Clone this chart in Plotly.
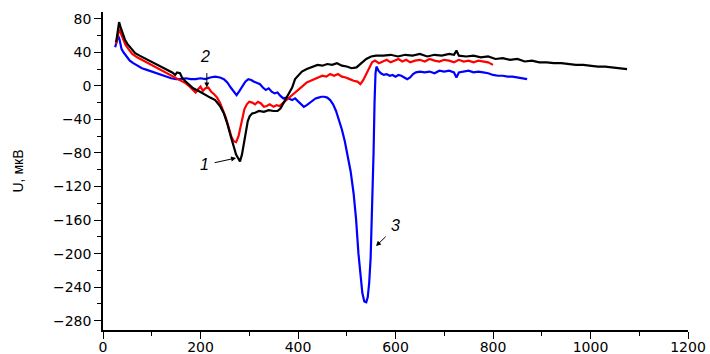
import plotly.graph_objects as go

# Curve 1 (black)
x1 = [27, 30, 33, 36, 40, 45, 50, 58, 66, 75, 85, 95, 105, 115, 125, 135, 142, 148, 152, 158,
      162, 168, 175, 185, 199, 210, 220, 230, 240, 248, 255, 262, 268, 273, 277, 281, 285, 289,
      293, 297, 301, 306, 312, 320, 330, 340, 350, 358, 364, 370, 376, 382, 388, 394, 400, 408,
      418, 430, 440, 450, 460, 470, 480, 490, 500, 510, 520, 530, 540, 550, 560, 575, 590, 605,
      620, 635, 650, 665, 680, 695, 710, 720, 725, 730, 745, 760, 775, 790, 805, 820, 835, 850,
      865, 880, 895, 910, 925, 940, 955, 970, 985, 1000, 1015, 1030, 1045, 1060, 1075]
y1 = [52, 66, 76, 70, 62, 55, 50, 44, 39, 36, 33, 30, 27, 24, 21, 18, 16, 13, 16, 15,
      10, 6, 2, -3, -7, -11, -14, -17, -24, -33, -45, -60, -72, -82, -86, -90, -82, -68,
      -55, -42, -36, -33, -32, -30, -31, -29, -30, -30, -27, -21, -15, -8, -2, 8, 12, 17,
      20, 23, 25, 24, 26, 25, 27, 24, 23, 21, 22, 27, 32, 35, 36, 36, 37, 35,
      37, 36, 38, 35, 37, 36, 38, 37, 42, 36, 35, 36, 34, 35, 32, 33, 31, 32,
      29, 30, 28, 28, 27, 27, 26, 25, 25, 24, 23, 23, 22, 21, 20]

# Curve 2 (red)
x2 = [27, 30, 33, 37, 41, 46, 52, 60, 70, 80, 90, 100, 110, 120, 130, 140, 150, 160, 170, 178,
      185, 190, 195, 200, 205, 210, 216, 222, 228, 234, 240, 246, 252, 258, 263, 268, 273, 278,
      282, 286, 290, 295, 300, 306, 312, 318, 324, 330, 336, 342, 350, 356, 362, 370, 377, 384,
      390, 397, 404, 410, 418, 426, 434, 442, 450, 458, 466, 474, 482, 490, 498, 506, 514, 522,
      528, 534, 540, 546, 552, 558, 566, 574, 582, 590, 598, 606, 614, 622, 630, 640, 650, 660,
      670, 680, 690, 700, 710, 720, 730, 740, 750, 760, 770, 780, 790, 800]
y2 = [50, 60, 68, 62, 55, 49, 44, 38, 34, 31, 28, 25, 22, 19, 16, 13, 10, 7, 3, -1,
      -5, -8, -4, -1, -6, -3, -2, -7, -10, -14, -20, -29, -38, -50, -60, -66, -67, -60,
      -48, -38, -28, -22, -19, -20, -22, -19, -21, -25, -24, -22, -25, -23, -24, -20, -16, -13,
      -10, -6, -3, 0, 4, 6, 8, 10, 12, 11, 14, 12, 14, 11, 10, 8, 6, 5,
      2, 7, 14, 22, 28, 30, 27, 29, 31, 28, 30, 32, 29, 31, 28, 30, 31, 29,
      32, 30, 29, 31, 30, 28, 31, 29, 30, 28, 30, 29, 28, 25]

# Curve 3 (blue)
x3 = [25, 28, 31, 34, 38, 42, 48, 55, 62, 70, 80, 90, 100, 110, 120, 130, 140, 150, 160, 170,
      180, 190, 200, 210, 220, 230, 240, 248, 255, 262, 268, 274, 280, 286, 292, 298, 304, 310,
      316, 322, 328, 334, 340, 346, 352, 358, 364, 370, 376, 382, 388, 394, 400, 406, 412, 418,
      424, 430, 436, 442, 448, 454, 460, 466, 472, 478, 484, 490, 496, 502, 508, 514, 519, 524,
      528, 532, 536, 540, 543, 546, 549, 551, 553, 555, 557, 559, 561, 565, 570, 576, 582, 588,
      594, 600, 606, 612, 618, 624, 630, 636, 642, 650, 660, 670, 680, 690, 700, 710, 720, 725,
      730, 740, 750, 760, 770, 780, 790, 800, 810, 820, 830, 840, 850, 860, 870]
y3 = [46, 52, 60, 55, 44, 40, 35, 30, 27, 24, 21, 19, 17, 15, 13, 11, 9, 8, 8, 9,
      8, 8, 9, 8, 10, 11, 10, 8, 4, -2, -7, -11, -6, 0, 5, 8, 7, 5,
      3, 2, -2, -5, -3, -7, -9, -8, -12, -15, -14, -16, -17, -15, -18, -22, -25, -23,
      -20, -17, -15, -14, -13, -13, -14, -17, -22, -30, -40, -52, -66, -82, -102, -128, -158, -200,
      -228, -247, -257, -258, -252, -235, -205, -170, -130, -80, -20, 15, 23, 18, 15, 13, 14, 12,
      13, 11, 13, 12, 10, 8, 10, 14, 16, 17, 16, 17, 15, 18, 17, 18, 16, 10,
      16, 17, 18, 16, 17, 16, 15, 13, 12, 12, 11, 11, 10, 9, 8]

x_ticks = [0, 200, 400, 600, 800, 1000, 1200]
y_ticks = [-280, -240, -200, -160, -120, -80, -40, 0, 40, 80]

fig = go.Figure()
# blue first, then red, with black drawn on top
for xs, ys, col in [(x3, y3, "#0000ff"), (x2, y2, "#ff0000"), (x1, y1, "#000000")]:
    fig.add_trace(go.Scatter(x=xs, y=ys, mode="lines",
                             line=dict(color=col, width=2.2), showlegend=False))

tick_font = dict(family="DejaVu Sans, Verdana, sans-serif", size=14, color="#000000")

axis_common = dict(showgrid=False, zeroline=False, showline=True, linecolor="black",
                   linewidth=1.5, ticks="outside", ticklen=7, tickwidth=1.2,
                   tickcolor="black", tickfont=tick_font, automargin=False)

fig.update_layout(
    width=710, height=354,
    margin=dict(l=103, r=22, t=12, b=24),
    paper_bgcolor="white", plot_bgcolor="white",
    font=dict(family="Liberation Sans, Arial, sans-serif", size=13, color="black"),
    xaxis=dict(range=[0, 1200], tickvals=x_ticks, ticklabelstandoff=-4,
               minor=dict(dtick=100, tick0=0, ticks="outside", ticklen=4,
                          tickwidth=1.2, tickcolor="black", showgrid=False),
               **axis_common),
    yaxis=dict(range=[-291, 88], tickvals=y_ticks,
               minor=dict(dtick=20, tick0=0, ticks="outside", ticklen=4,
                          tickwidth=1.2, tickcolor="black", showgrid=False),
               title=dict(text="U, мкВ", standoff=26,
                          font=dict(family="Liberation Sans, Arial, sans-serif", size=14)),
               **axis_common),
)

label_font = dict(family="Liberation Sans, Arial, sans-serif", size=16, color="black")
for tx, ty, lbl in [(209, -94, "1"), (209, 35, "2"), (601, -166, "3")]:
    fig.add_annotation(x=tx, y=ty, text="<i>" + lbl + "</i>", showarrow=False,
                       font=label_font, xref="x", yref="y")

for (ax0, ay0, hx, hy) in [(226, -92, 273, -86), (213, 17, 213, -2), (583, -178, 560, -191)]:
    fig.add_annotation(x=hx, y=hy, ax=ax0, ay=ay0, xref="x", yref="y", axref="x", ayref="y",
                       text="", showarrow=True, arrowhead=2, arrowsize=1, arrowwidth=1,
                       arrowcolor="black")

fig.write_html("out.html")
